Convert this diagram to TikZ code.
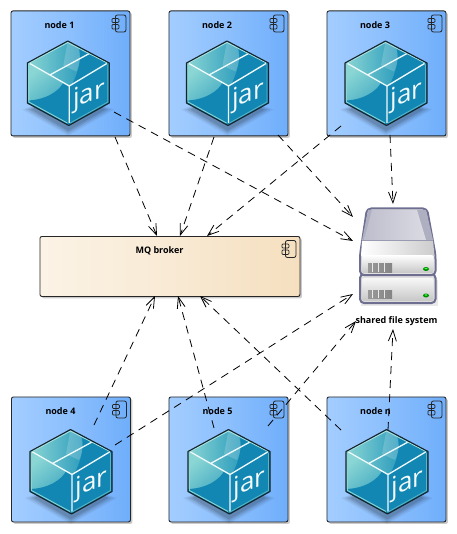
\documentclass[tikz,border=0pt]{standalone}
\usepackage{fontspec}
\setmainfont{Open Sans}
\usetikzlibrary{arrows.meta,shadows}
\definecolor{boxL}{HTML}{A3CDFF}
\definecolor{boxR}{HTML}{6FAEFB}
\definecolor{brkL}{HTML}{FBF3E6}
\definecolor{brkR}{HTML}{F5DFBF}
\definecolor{cubeD}{HTML}{1287B3}
\definecolor{cubeM}{HTML}{2A9ABC}
\definecolor{cubeL}{HTML}{8AD6D4}
\definecolor{cubeE}{HTML}{16242C}
\definecolor{hddE}{HTML}{6E6E90}
\tikzset{
  x=1pt,y=-1pt,
  compbox/.style={draw=black!85,line width=0.9pt,rounded corners=2pt,inner sep=0pt,anchor=north west,
    minimum width=119pt,minimum height=125pt,left color=boxL,right color=boxR,middle color=boxL!55!boxR,
    drop shadow={shadow xshift=2pt,shadow yshift=-2pt,opacity=.35,fill=black!60}},
  brokerbox/.style={compbox,minimum width=260pt,minimum height=60pt,left color=brkL,right color=brkR,middle color=brkL!55!brkR},
  lbl/.style={font=\fontsize{9}{10}\selectfont\bfseries,inner sep=0pt,text=black},
  flow/.style={draw=black,line width=0.8pt,dash pattern=on 8pt off 6pt,-{Straight Barb[length=11pt,width=8pt,line width=0.8pt]}},
  compicon/.pic={
    \draw[black!85,line width=0.8pt,rounded corners=2pt] (-4,-8.5) -- (6.5,-8.5) -- (6.5,8.5) -- (-4,8.5) -- cycle;
    \draw[black!85,line width=0.8pt,rounded corners=1pt] (-7.5,-5) rectangle (-0.5,-1);
    \draw[black!85,line width=0.8pt,rounded corners=1pt] (-7.5,1) rectangle (-0.5,5.5);
  },
  jarcube/.pic={
    % soft shadow
    \foreach \r/\o in {46/.05,43/.07,40/.09,37/.11}{
      \fill[black,opacity=\o] (-\r,26) -- (0,{27+\r*0.55}) -- (\r,26) -- (0,10) -- cycle;
    }
    % top face
    \path[fill=cubeD] (-0.5,-42.5) -- (41,-20.5) -- (1,3) -- (-41,-20.5) -- cycle;
    \begin{scope}
      \clip (-0.5,-42.5) -- (41,-20.5) -- (1,3) -- (-41,-20.5) -- cycle;
      \path[left color=cubeL,right color=cubeM] (-41,-43) -- (9,-43) .. controls (14,-30) and (12,-14) .. (2,4) -- (-41,4) -- cycle;
      \fill[white,opacity=.18] (-0.5,-42.5) -- (9,-38) .. controls (13,-28) and (12,-20) .. (8,-12) -- (-5,-18) -- cycle;
    \end{scope}
    % left face
    \path[left color=cubeL,right color=cubeM,shading angle=40] (-41,-20.5) -- (1,3) -- (0.5,42) -- (-41,19.5) -- cycle;
    \begin{scope}
      \clip (-41,-20.5) -- (1,3) -- (0.5,42) -- (-41,19.5) -- cycle;
      \fill[cubeD] (-42,17) .. controls (-24,17) and (-8,8) .. (-4,-3) -- (3,3) -- (3,44) -- (-42,21) -- cycle;
    \end{scope}
    % right face
    \path[fill=cubeD] (41,-20.5) -- (1,3) -- (0.5,42) -- (41,19.5) -- cycle;
    % highlights
    \draw[white!88!cubeL,line width=1.3pt,line join=round]
      (-38.5,-20) -- (1,2.5) -- (38.5,-20) (1,2.5) -- (1,39.5)
      (-18.5,-8.5) -- (21,-30);
    \draw[cubeL,line width=0.9pt,line join=round] (-39.5,-19) -- (-39.5,18.5) -- (-1,39.5);
    \draw[cubeL!70!white,line width=0.9pt,line join=round] (-39,-20.5) -- (-0.5,-41) -- (39,-20.5);
    \draw[cubeL!60!cubeD,line width=0.8pt,line join=round] (2,39.5) -- (39.5,18.5) -- (39.5,-19);
    % outline
    \draw[cubeE,line width=1.1pt,line join=round] (-0.5,-42.5) -- (41,-20.5) -- (41,19.5) -- (0.5,42) -- (-41,19.5) -- (-41,-20.5) -- cycle;
    % text
    \begin{scope}[shift={(20.7,12)},cm={1,0.36,0,1,(0,0)}]
      \node[transform shape,text=white!92!cubeL,inner sep=0pt,font=\fontsize{26}{28}\selectfont] (-word) at (0,0) {jar};
    \end{scope}
  }
}
\begin{document}
\begin{tikzpicture}
\useasboundingbox (0,0) rectangle (456,534);
% component boxes
\node[compbox] (box1) at (10.5,10.5) {};
\node[compbox] (box2) at (168.5,10.5) {};
\node[compbox] (box3) at (326.5,10.5) {};
\node[compbox] (box4) at (11,396.5) {};
\node[compbox] (box5) at (168.5,396.5) {};
\node[compbox] (boxn) at (326.5,396.5) {};
\node[brokerbox] (broker) at (39.5,236) {};
% icons
\pic at ([shift={(-11,13)}]box1.north east) {compicon};
\pic at ([shift={(-11,13)}]box2.north east) {compicon};
\pic at ([shift={(-11,13)}]box3.north east) {compicon};
\pic at ([shift={(-11,13)}]box4.north east) {compicon};
\pic at ([shift={(-11,13)}]box5.north east) {compicon};
\pic at ([shift={(-11,13)}]boxn.north east) {compicon};
\pic at ([shift={(-11,13)}]broker.north east) {compicon};
% cubes
\pic (c1) at (68.3,83.5) {jarcube};
\pic (c2) at (227.5,83.5) {jarcube};
\pic (c3) at (386,83.5) {jarcube};
\pic (c4) at (71,472) {jarcube};
\pic (c5) at (229,472) {jarcube};
\pic (cn) at (387,472) {jarcube};
% labels
\node[lbl] (t1) at (59.5,25) {node 1};
\node[lbl] (t2) at (217,25) {node 2};
\node[lbl] (t3) at (375,25) {node 3};
\node[lbl] (t4) at (60.5,411) {node 4};
\node[lbl] (t5) at (217.5,411) {node 5};
\node[lbl] (tn) at (375.5,411) {node n};
\node[lbl] (tb) at (159.5,251) {MQ broker};
% shared file system
\fill[black!25,opacity=.35] (361,280) rectangle (438,306);
\draw[hddE,line width=2pt,rounded corners=4pt,fill=black!12] (360,274) rectangle (435.5,303);
\path[rounded corners=2pt,top color=black!3,bottom color=black!22] (362,278) rectangle (433.5,301);
\path[left color=black!40,right color=black!48] (368,290) rectangle (392,298);
\foreach \s in {372,378,384} \fill[white,opacity=.8] (\s,290) rectangle (\s+1.3,298);
\fill[green!55!black] (426,295.5) ellipse (3 and 2);
\fill[green!70!white] (426,295) ellipse (1.6 and .8);
\draw[hddE,line width=2pt,line join=round,rounded corners=4pt,fill=black!10] (367,208.5) -- (427,208.5) -- (435.5,255) -- (435.5,275) -- (360,275) -- (360,255) -- cycle;
\path[fill=hddE!55!white] (368,210) -- (426,210) -- (433,240) -- (362,240) -- cycle;
\path[left color=hddE!45!white,right color=hddE!25!white] (372,210) -- (417,210) -- (426,240) -- (364,240) -- cycle;
\path[left color=white,right color=black!20] (362,240.5) -- (433,240.5) -- (434.5,256) -- (361,256) -- cycle;
\draw[hddE!70!white,line width=.8pt] (362,240) -- (433,240);
\path[rounded corners=2pt,top color=white,bottom color=black!22] (362,255) rectangle (433.5,273);
\path[left color=black!40,right color=black!48] (368,263) rectangle (392,272);
\foreach \s in {372,378,384} \fill[white,opacity=.8] (\s,263) rectangle (\s+1.3,272);
\fill[green!55!black] (426,269) ellipse (3 and 2);
\fill[green!70!white] (426,268.5) ellipse (1.6 and .8);
\node[lbl] (hdd) at (396.5,321) {shared file system};
% connector ends
\coordinate (a1) at (114,112);
\coordinate (a2) at (115,137);
\coordinate (a3) at (214,137);
\coordinate (a4) at (278,135);
\coordinate (a5) at (341,126);
\coordinate (a6) at (390,135);
\coordinate (a7) at (94,425);
\coordinate (a8) at (115,445);
\coordinate (a9) at (214,428);
\coordinate (a10) at (268,426);
\coordinate (a11) at (341,430);
\coordinate (a12) at (388,430);
\coordinate (e1) at (353,241);
\coordinate (e2) at (157,236);
\coordinate (e3) at (180,236);
\coordinate (e4) at (353,217);
\coordinate (e5) at (207,236);
\coordinate (e6) at (393,204);
\coordinate (e7) at (155,296);
\coordinate (e8) at (353,294);
\coordinate (e9) at (178,296);
\coordinate (e10) at (356,321);
\coordinate (e11) at (200,296);
\coordinate (e12) at (393,329);
\foreach \i in {1,...,12}{ \draw[flow] (a\i) -- (e\i); }
\end{tikzpicture}
\end{document}
